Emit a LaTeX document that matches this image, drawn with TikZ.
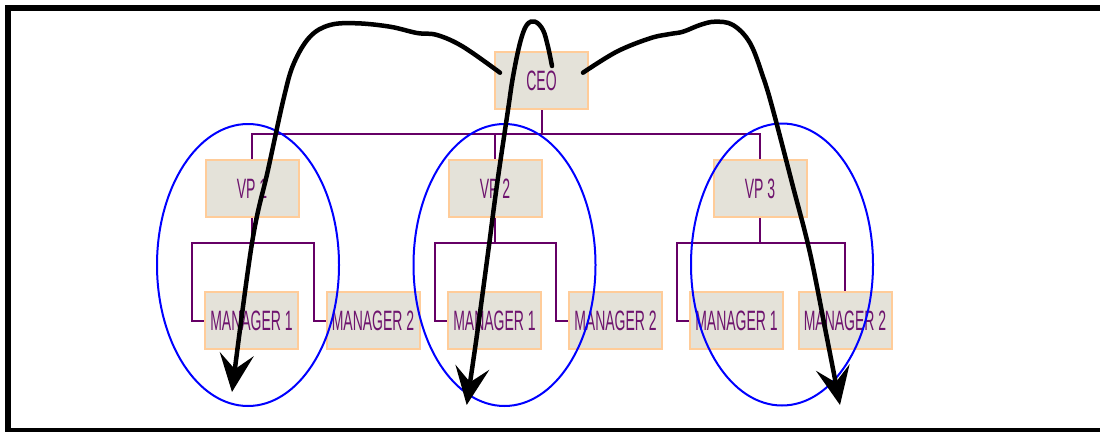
\documentclass[tikz,border=0pt]{standalone}
\usepackage{fontspec}
\newfontfamily\orgfont[FakeStretch=0.5]{Liberation Sans}
\usetikzlibrary{arrows.meta}
\definecolor{orgline}{RGB}{102,0,102}
\definecolor{orgtext}{RGB}{110,20,110}
\definecolor{orgfill}{RGB}{228,226,217}
\definecolor{orgedge}{RGB}{255,204,153}

\begin{document}
\begin{tikzpicture}[x=1pt, y=-1pt,
 post/.style={rectangle, draw=orgedge, line width=2pt, fill=orgfill,
  minimum width=93pt, minimum height=57pt, inner sep=0pt,
  text=orgtext, font=\orgfont\fontsize{28}{30}\selectfont},
 link/.style={orgline, line width=2pt},
 group/.style={blue, line width=2pt},
 jump/.style={line width=4.5pt, line cap=round,
  -{Stealth[length=38pt, width=34pt, inset=15pt]}}]
 \useasboundingbox (0,0) rectangle (1100,431);
 \draw[line width=6pt] (8,8) rectangle (1112,431);

 \draw node[post] (ceo) at (541.5,80.5) {CEO};
 \draw node[post] (vp1) at (252,188.5) {VP 1};
 \draw node[post] (vp2) at (495,188.5) {VP 2};
 \draw node[post] (vp3) at (760,188.5) {VP 3};
 \draw node[post] (m11) at (251.5,320.5) {MANAGER 1};
 \draw node[post] (m12) at (373,320.5) {MANAGER 2};
 \draw node[post] (m21) at (494.5,320.5) {MANAGER 1};
 \draw node[post] (m22) at (615.5,320.5) {MANAGER 2};
 \draw node[post] (m31) at (736.5,320.5) {MANAGER 1};
 \draw node[post] (m32) at (845,320.5) {MANAGER 2};

 \coordinate (top) at (541.5,134);
 \draw[link] (ceo.south) -- (top);
 \draw[link] (top) -| (vp1.north);
 \draw[link] (top) -| (vp2.north);
 \draw[link] (top) -| (vp3.north);

 \coordinate (b1) at (252,243);
 \draw[link] (vp1.south) -- (b1) -| ([xshift=-12pt]m11.west) -- (m11.west);
 \draw[link] (b1) -| ([xshift=-12pt]m12.west) -- (m12.west);
 \coordinate (b2) at (495,243);
 \draw[link] (vp2.south) -- (b2) -| ([xshift=-12pt]m21.west) -- (m21.west);
 \draw[link] (b2) -| ([xshift=-12pt]m22.west) -- (m22.west);
 \coordinate (b3) at (760,243);
 \draw[link] (vp3.south) -- (b3) -| ([xshift=-12pt]m31.west) -- (m31.west);
 \draw[link] (b3) -| (m32.north);

 \draw[group] (248,265) ellipse [x radius=91pt, y radius=141pt];
 \draw[group] (504.5,265) ellipse [x radius=91pt, y radius=141pt];
 \draw[group] (782,264.5) ellipse [x radius=91pt, y radius=141pt];

 \coordinate (s1) at (500,72.7);
 \coordinate (t1) at (232,392);
 \draw[jump] plot[smooth, tension=0.6] coordinates {(s1) (463,46.7) (437,35)
  (417,33) (390,26.7) (357,23.3) (330,25) (310,36.7) (294,63) (284,97)
  (268,170) (252,243) (t1)};

 \coordinate (s2) at (552,66);
 \coordinate (t2) at (466.7,405);
 \draw[jump] plot[smooth, tension=0.6] coordinates {(s2) (548,46.7) (543,30)
  (535,21.7) (526.7,25) (520,43) (513,76.7) (508,110) (496.7,186.7)
  (488,253) (476.7,336.7) (t2)};

 \coordinate (s3) at (583,72.7);
 \coordinate (t3) at (840,405);
 \draw[jump] plot[smooth, tension=0.6] coordinates {(s3) (616.7,51.7) (650,38.3)
  (670,34) (683,31.7) (700,25) (715,21.7) (733,25) (750,43) (763,76.7)
  (773,110) (793,186.7) (810,253) (826.7,336.7) (t3)};
\end{tikzpicture}
\end{document}
